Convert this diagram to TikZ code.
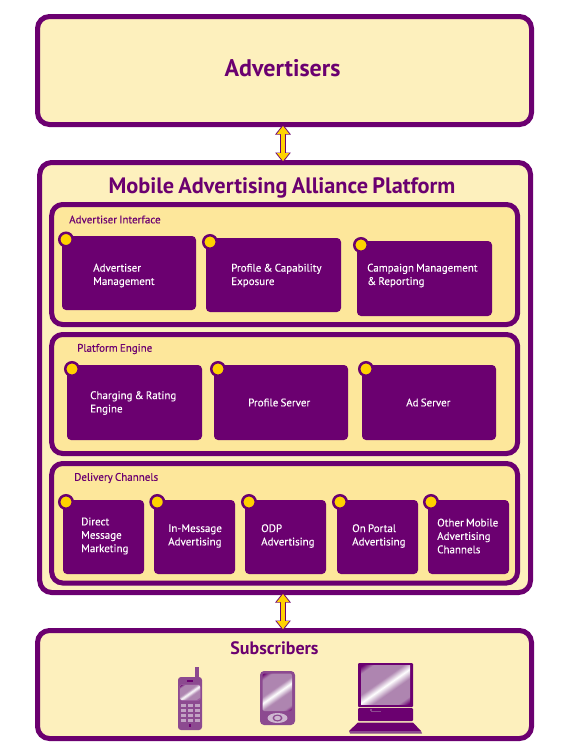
\documentclass[tikz,border=0pt]{standalone}
\usepackage{fontspec}
\setmainfont{PT Sans}[WordSpace=0.75]
\newfontfamily\cardfont{PT Sans}[WordSpace=0.75,FakeBold=0.15]
\usetikzlibrary{arrows.meta,calc}
\definecolor{pur}{HTML}{6B0070}
\definecolor{cream}{HTML}{FDF0BD}
\definecolor{sand}{HTML}{FDE79B}
\definecolor{gold}{HTML}{FFD200}
\definecolor{dev}{HTML}{8C4A90}
\definecolor{mauve}{HTML}{AE85B0}
\pgfdeclarehorizontalshading{glare}{100bp}{color(0bp)=(pur);color(16bp)=(pur);color(23bp)=(mauve);color(40bp)=(mauve);color(49bp)=(white);color(57bp)=(mauve);color(77bp)=(mauve);color(84bp)=(pur);color(100bp)=(pur)}
\tikzset{
 outerbox/.style={draw=pur,line width=5pt,fill=cream,rounded corners=12pt,inner sep=0pt,outer sep=0pt},
 panelbox/.style={draw=pur,line width=5pt,fill=sand,rounded corners=11pt,inner sep=0pt,outer sep=0pt},
 cardbox/.style={fill=pur,rounded corners=4pt,inner sep=0pt,outer sep=0pt},
 dot/.style={circle,draw=pur,line width=2.5pt,fill=gold,minimum size=13.5pt,inner sep=0pt},
 cardtext/.style={anchor=west,align=left,text=white,font=\cardfont\fontsize{11}{13.4}\selectfont,inner sep=0pt},
 paneltext/.style={anchor=west,text=pur,font=\cardfont\fontsize{11}{13}\selectfont,inner sep=0pt},
 titletext/.style={text=pur,font=\bfseries\fontsize{#1}{#1}\selectfont,inner sep=0pt},
 linkout/.style={draw=pur,line width=6pt,{Triangle[length=10pt,width=15pt]}-{Triangle[length=10pt,width=15pt]}},
 linkin/.style={draw=gold,line width=3.5pt,{Triangle[length=8pt,width=12pt]}-{Triangle[length=8pt,width=12pt]}},
 devbody/.style={fill=dev},
 devdark/.style={fill=pur},
 screen/.style={shading=glare,shading angle=125},
}
% name, style, x1,y1,x2,y2
\newcommand\rectnode[6]{\node[#2,minimum width={#5-#3},minimum height={#6-#4}] (#1) at ({(#3+#5)/2},{(#4+#6)/2}) {};}
% name, x1,y1,x2,y2, dot x,y, text x,y, text
\newcommand\cardnode[9]{\rectnode{#1}{cardbox}{#2}{#3}{#4}{#5}\node[dot] (#1d) at (#6,#7) {};\cardtextnode{#1}{#8}{#9}}
\newcommand\cardtextnode[3]{\def\tmpname{#1}\def\tmpx{#2}\def\tmpy{#3}\cardlabel}
\newcommand\cardlabel[1]{\node[cardtext] (\tmpname t) at (\tmpx,\tmpy) {#1};}
\begin{document}
\begin{tikzpicture}[x=1pt,y=-1pt]
\useasboundingbox (0,0) rectangle (572,755);
\fill[white] (0,0) rectangle (572,755);
% outer boxes
\rectnode{adv}{outerbox}{37.5}{16.5}{531.5}{124.5}
\rectnode{plat}{outerbox}{39.7}{162.5}{530.5}{592.5}
\rectnode{subs}{outerbox}{37.5}{630.5}{531.5}{738.5}
\node[titletext=24] (advt) at (282.5,68.5) {Advertisers};
\node[titletext=22.3] (platt) at (282,187.5) {Mobile Advertising Alliance Platform};
\node[titletext=18] (subst) at (274.5,648.5) {Subscribers};
% connectors
\coordinate (ca) at (283,0);
\draw[linkout] (adv.south -| ca) -- (plat.north -| ca);
\draw[linkin,shorten >=1.5pt,shorten <=1.5pt] (adv.south -| ca) -- (plat.north -| ca);
\draw[linkout] (plat.south -| ca) -- (subs.north -| ca);
\draw[linkin,shorten >=1.5pt,shorten <=1.5pt] (plat.south -| ca) -- (subs.north -| ca);
% panels
\rectnode{p1}{panelbox}{51.7}{204.5}{517.5}{324.5}
\rectnode{p2}{panelbox}{51.7}{334.5}{517.5}{453.5}
\rectnode{p3}{panelbox}{51.7}{463.5}{517.5}{583}
\node[paneltext] (p1t) at (69,219.5) {Advertiser Interface};
\node[paneltext] (p2t) at (77,349) {Platform Engine};
\node[paneltext] (p3t) at (74,478) {Delivery Channels};
% cards
\cardnode{a}{62}{236}{196}{310}{66}{239.5}{93}{275.5}{Advertiser\\Management}
\cardnode{b}{206}{238}{341}{312}{210}{242}{231}{275.5}{Profile \& Capability\\Exposure}
\cardnode{c}{357}{241}{492}{316}{361}{245}{367}{275.5}{Campaign Management\\\& Reporting}
\cardnode{d}{67}{365}{202}{440}{72}{369}{90}{403}{Charging \& Rating\\Engine}
\cardnode{e}{214}{365}{348}{440}{218}{369}{248}{402.5}{Profile Server}
\cardnode{f}{362}{365}{496}{440}{366}{369}{406}{402.5}{Ad Server}
\cardnode{g}{63}{500}{144}{574}{66}{502}{81}{536}{Direct\\Message\\Marketing}
\cardnode{h}{154}{500}{235}{574}{157.3}{502}{168}{536}{In-Message\\Advertising}
\cardnode{i}{245}{500}{326}{574}{249}{502}{261}{536}{ODP\\Advertising}
\cardnode{j}{337}{500}{418}{574}{340}{502}{352}{536}{On Portal\\Advertising}
\cardnode{k}{428}{500}{509}{574}{431}{502}{437}{536}{Other Mobile\\Advertising\\Channels}
% phone
\fill[devbody] (195,667) rectangle (199,678);
\fill[devbody,rounded corners=3pt] (178,677) rectangle (202,730);
\fill[pur] (187,680) rectangle (193,682);
\fill[pur!60!white,rounded corners=2pt] (179.5,684.5) rectangle (200.5,700.5);
\shade[screen,rounded corners=2pt] (180,685) rectangle (200,700);
\foreach \yy in {704,709,714,719} \foreach \xx in {181,188,195} \fill[mauve!75!white] (\xx,\yy) rectangle ++(4.5,3);
\fill[pur] (189,724) rectangle (191,727);
% PDA
\fill[devbody,rounded corners=4pt] (260,671) rectangle (295,725);
\shade[screen,rounded corners=2pt] (262.5,673.5) rectangle (292,711);
\fill[mauve!60!white] (277.5,718) ellipse (10 and 5);
\fill[dev] (277.5,718) ellipse (5 and 3.5);
\fill[mauve!60!white] (277.5,718) ellipse (3.3 and 2.2);
% laptop
\fill[devdark,rounded corners=1pt] (358,663) rectangle (413,707);
\shade[screen] (361,665.5) rectangle (410,704);
\fill[devdark,rounded corners=1pt] (358,708) rectangle (413,721);
\fill[dev] (371,711) rectangle (381,712);
\fill[dev] (370,708.5) rectangle (372,711);
\fill[devdark] (358,722.5) -- (413,722.5) -- (421,731) -- (349,731) -- cycle;
\fill[dev] (349,731) -- (421,731) -- (422,733.5) -- (350,733.5) -- cycle;
\end{tikzpicture}
\end{document}
